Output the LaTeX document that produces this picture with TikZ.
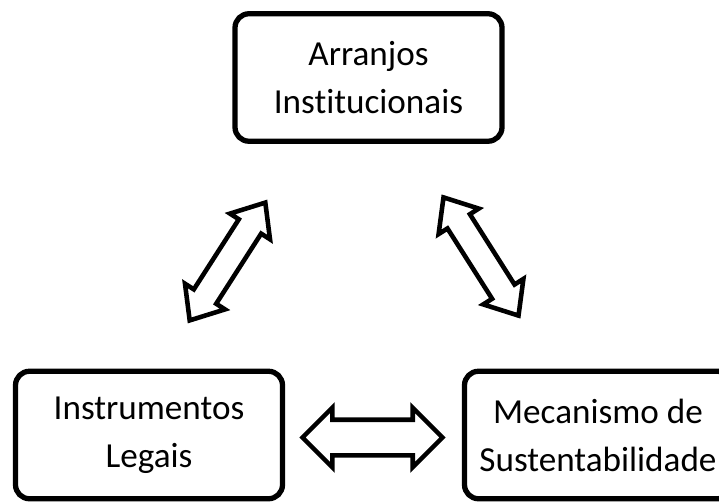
\documentclass[tikz,border=0pt]{standalone}
\usepackage{fontspec}
\setmainfont[Ligatures=CommonOff]{Carlito}
\usetikzlibrary{shapes.arrows}
\begin{document}
\begin{tikzpicture}
        [box/.style={draw, line width=3pt, rounded corners=0.28cm, minimum width=5.34cm, minimum height=2.55cm, align=center, font=\fontsize{20}{27.3}\selectfont},
        link/.style={double arrow, draw, line width=2.6pt, fill=white, inner xsep=0pt, minimum height=2.8cm}]
        \useasboundingbox (0,0) rectangle (14.38,10.04);
        \node[box] (A) at (7.37,8.49) {Arranjos\\Institucionais};
        \node[box] (I) at (2.98,1.34) {Instrumentos\\Legais};
        \node[box] (M) at (11.96,1.34) {Mecanismo de\\Sustentabilidade};
        
        \node[link, inner ysep=0.31cm, double arrow head extend=0.24cm] (IM) at (7.45,1.29) {};
        \node[link, inner ysep=0.22cm, double arrow head extend=0.21cm, double arrow tip angle=80, rotate=57.3] (IA) at (4.55,4.81) {};
        \node[link, inner ysep=0.22cm, double arrow head extend=0.21cm, double arrow tip angle=80, rotate=-57.6] (AM) at (9.62,4.91) {};
\end{tikzpicture}
\end{document}
